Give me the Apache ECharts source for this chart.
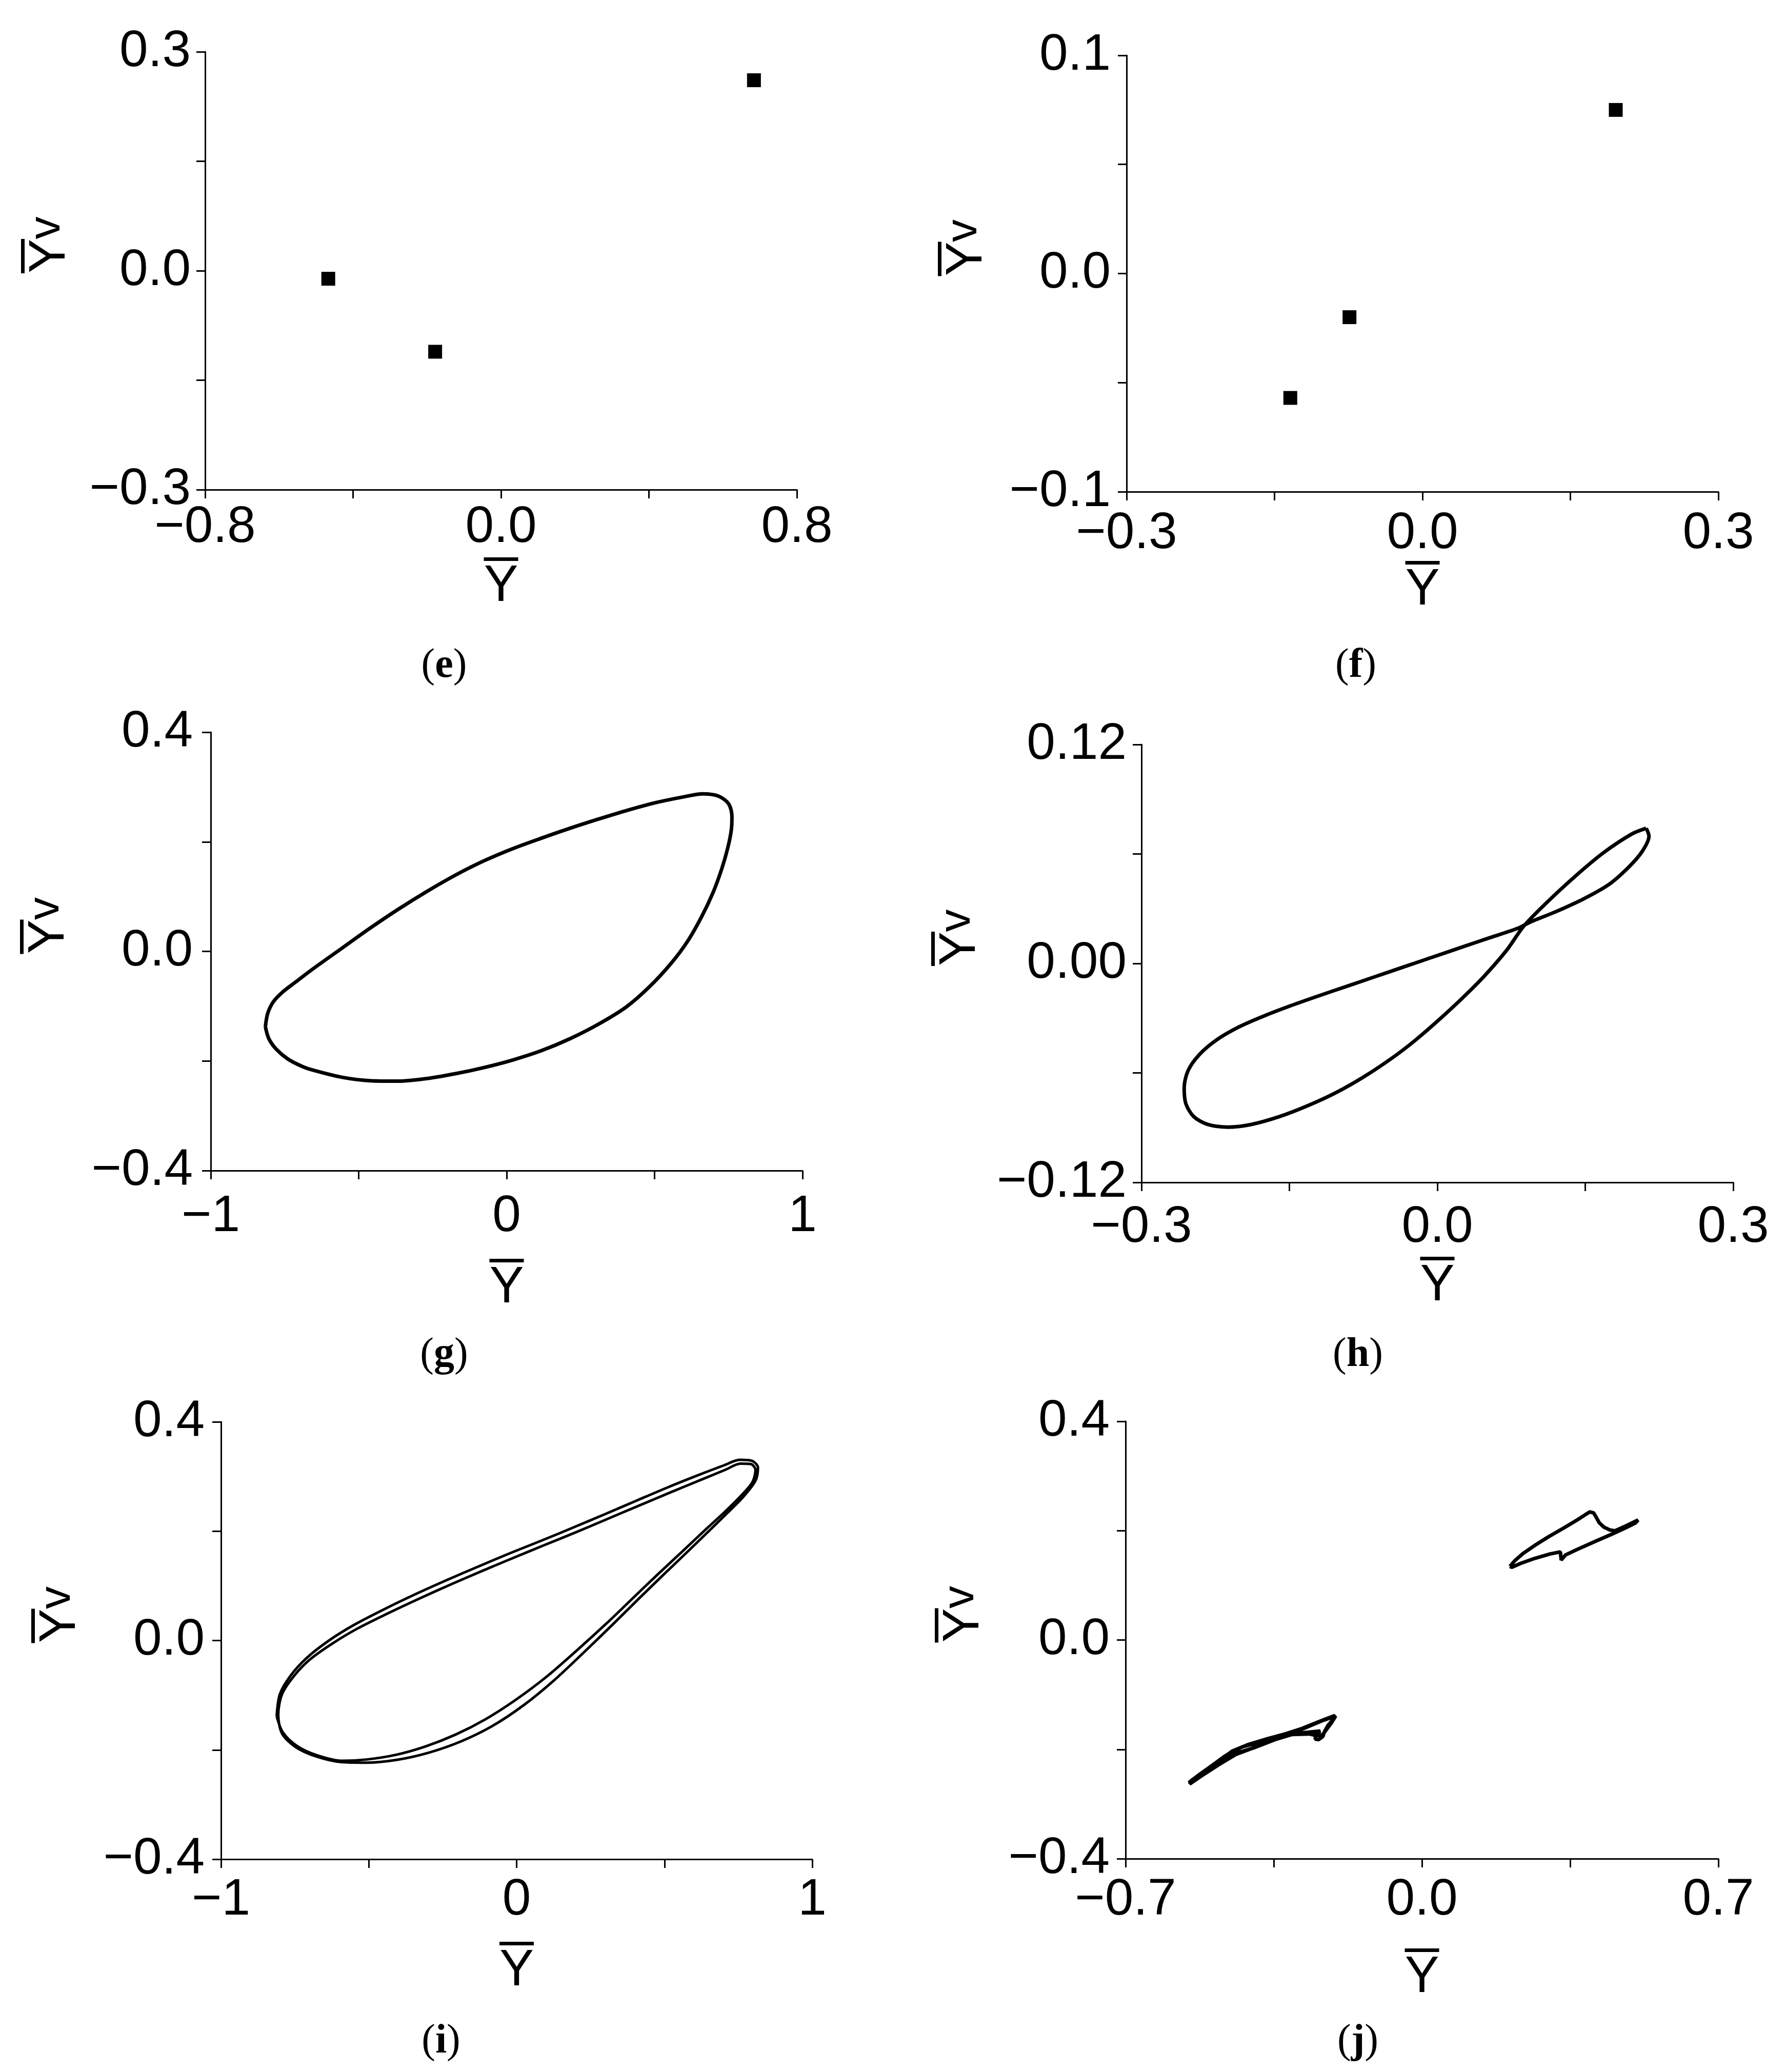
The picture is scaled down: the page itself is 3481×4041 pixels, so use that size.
<!DOCTYPE html>
<html>
<head>
<meta charset="utf-8">
<script src="https://cdn.jsdelivr.net/npm/echarts@6/dist/echarts.min.js"></script>
<style>
html, body { margin: 0; padding: 0; background: #fff; }
#chart { width: 3481px; height: 4041px; }
</style>
</head>
<body>
<div id="chart"></div>
<script>
// (e), (f): fixed points
const ePoints = [[-0.467, -0.011], [-0.178, -0.111], [0.684, 0.261]];
const fPoints = [[-0.134, -0.057], [-0.074, -0.020], [0.196, 0.075]];

// (g): single closed orbit
const gLoop = [
  [-0.8154, -0.1376], [-0.8077, -0.1136], [-0.7885, -0.0920], [-0.7558, -0.0736], [-0.7115, -0.0552],
  [-0.6538, -0.0316], [-0.5577, 0.0054], [-0.4615, 0.0424], [-0.3654, 0.0772], [-0.2692, 0.1095],
  [-0.1731, 0.1392], [-0.0769, 0.1652], [0.0192, 0.1872], [0.1154, 0.2062], [0.2115, 0.2242],
  [0.3077, 0.2410], [0.4038, 0.2568], [0.5, 0.2710], [0.5962, 0.2818], [0.6635, 0.2875],
  [0.7154, 0.2835], [0.75, 0.2696], [0.7615, 0.2464], [0.7596, 0.2224], [0.7481, 0.1904],
  [0.7269, 0.1504], [0.6981, 0.108], [0.6596, 0.064], [0.6115, 0.0184], [0.5538, -0.0232],
  [0.4808, -0.0656], [0.4038, -0.1016], [0.3077, -0.1336], [0.2115, -0.16], [0.1154, -0.1816],
  [0.0192, -0.1984], [-0.0769, -0.212], [-0.1731, -0.2232], [-0.2692, -0.232], [-0.3654, -0.2368],
  [-0.4615, -0.236], [-0.5577, -0.2296], [-0.6538, -0.2168], [-0.6923, -0.2096], [-0.7404, -0.1960],
  [-0.7788, -0.1784], [-0.8038, -0.1592], [-0.8154, -0.1376]
];

// (h): figure-eight orbit
const hLoop = [
  [0.2117, 0.0741], [0.2146, 0.0698], [0.2077, 0.0614], [0.1944, 0.0530], [0.1742, 0.0434],
  [0.1483, 0.0354], [0.1194, 0.0282], [0.0935, 0.0225], [0.0819, 0.0193], [0.0531, 0.0141],
  [0.0242, 0.0088], [-0.0046, 0.0035], [-0.0335, -0.0018], [-0.0623, -0.0071], [-0.0911, -0.0124],
  [-0.12, -0.0177], [-0.1488, -0.0232], [-0.1777, -0.0292], [-0.2008, -0.0347], [-0.2238, -0.0419],
  [-0.2412, -0.0499], [-0.2527, -0.0587], [-0.2567, -0.0683], [-0.255, -0.0768], [-0.2469, -0.0840],
  [-0.2325, -0.0883], [-0.2123, -0.0897], [-0.1892, -0.0883], [-0.1604, -0.0840], [-0.1315, -0.0780],
  [-0.1027, -0.0708], [-0.0738, -0.0619], [-0.045, -0.0515], [-0.0219, -0.0419], [0.0012, -0.0311],
  [0.0242, -0.0196], [0.0473, -0.0071], [0.0704, 0.0073], [0.0877, 0.0205], [0.1108, 0.0333],
  [0.1396, 0.0477], [0.1685, 0.0607], [0.1973, 0.0710], [0.2117, 0.0741]
];

// (i): two close passes of the orbit
const iLoopA = [
  [-0.8117, -0.1384], [-0.8010, -0.0982], [-0.7639, -0.0638], [-0.7108, -0.0322], [-0.6364, -0.0006],
  [-0.5515, 0.0281], [-0.4453, 0.0579], [-0.3391, 0.0855], [-0.2329, 0.1113], [-0.1267, 0.1360],
  [-0.0205, 0.1601], [0.0857, 0.1831], [0.1919, 0.2068], [0.2981, 0.2310], [0.4043, 0.2556],
  [0.5105, 0.2800], [0.6167, 0.3030], [0.7017, 0.3205], [0.7548, 0.3305], [0.7952, 0.3289],
  [0.8164, 0.3163], [0.8079, 0.2922], [0.7654, 0.2620], [0.7123, 0.2330], [0.6592, 0.2050],
  [0.5849, 0.1660], [0.4999, 0.1220], [0.4150, 0.0775], [0.3300, 0.0320], [0.2344, -0.0180],
  [0.1282, -0.0720], [0.0220, -0.1190], [-0.0842, -0.1570], [-0.1904, -0.1850], [-0.2966, -0.2050],
  [-0.4028, -0.2180], [-0.5090, -0.2234], [-0.5939, -0.2223], [-0.6789, -0.2119], [-0.7479, -0.1947],
  [-0.7936, -0.1700]
];
const iLoopB = [
  [-0.8063, -0.1356], [-0.7936, -0.0982], [-0.7532, -0.0649], [-0.7001, -0.0351], [-0.6258, -0.0064],
  [-0.5408, 0.0212], [-0.4346, 0.0499], [-0.3284, 0.0769], [-0.2222, 0.1027], [-0.1160, 0.1274],
  [-0.0098, 0.1515], [0.0964, 0.1751], [0.2026, 0.1985], [0.3088, 0.2228], [0.4150, 0.2470],
  [0.5212, 0.2712], [0.6274, 0.2948], [0.7070, 0.3125], [0.7569, 0.3235], [0.7920, 0.3228],
  [0.8079, 0.3123], [0.7973, 0.2893], [0.7548, 0.2623], [0.7017, 0.2340], [0.6433, 0.2050],
  [0.5636, 0.1645], [0.4734, 0.1190], [0.3884, 0.0750], [0.3035, 0.0310], [0.2079, -0.0160],
  [0.1017, -0.0660], [-0.0045, -0.1090], [-0.1054, -0.1440], [-0.2063, -0.1720], [-0.3072, -0.1935],
  [-0.4081, -0.2090], [-0.5090, -0.2177], [-0.5886, -0.2200], [-0.6736, -0.2102], [-0.7426, -0.1930],
  [-0.7904, -0.1683], [-0.8117, -0.1384]
];

// (j): two separate attractor pieces
const jUpper = [
  [0.2079, 0.1346], [0.2180, 0.1440], [0.2381, 0.1580], [0.2664, 0.1730], [0.2987, 0.1887],
  [0.3350, 0.2049], [0.3673, 0.2199], [0.3854, 0.2290], [0.3963, 0.2343], [0.4056, 0.2324],
  [0.4117, 0.2243], [0.4189, 0.2143], [0.4298, 0.2065], [0.4439, 0.2012], [0.4560, 0.1999],
  [0.4843, 0.2096], [0.5105, 0.2196], [0.5045, 0.2143], [0.4802, 0.2049], [0.4480, 0.1934],
  [0.4076, 0.1799], [0.3673, 0.1659], [0.3390, 0.1555], [0.3289, 0.1462], [0.3269, 0.1612],
  [0.3027, 0.1574], [0.2664, 0.1493], [0.2341, 0.1405], [0.2119, 0.1330], [0.2079, 0.1346]
];
const jLowerA = [
  [-0.5507, -0.2609], [-0.5245, -0.2453], [-0.4841, -0.2234], [-0.4478, -0.2031], [-0.4115, -0.1915],
  [-0.3631, -0.1802], [-0.3227, -0.1718], [-0.2824, -0.1615], [-0.2420, -0.1490], [-0.2057, -0.1380],
  [-0.2097, -0.1452], [-0.2219, -0.1562], [-0.2299, -0.1671], [-0.2340, -0.1765], [-0.2440, -0.1821],
  [-0.2521, -0.1812], [-0.2509, -0.1718], [-0.2400, -0.1665], [-0.2703, -0.1687], [-0.3026, -0.1709],
  [-0.3429, -0.1796], [-0.3913, -0.1952], [-0.4397, -0.2093], [-0.4801, -0.2281], [-0.5204, -0.2484],
  [-0.5487, -0.2634]
];
const jLowerB = [
  [-0.5447, -0.2571], [-0.5043, -0.2343], [-0.4640, -0.2115], [-0.4236, -0.1952], [-0.3752, -0.1859],
  [-0.3268, -0.1749], [-0.2783, -0.1615], [-0.2340, -0.1471], [-0.2037, -0.1390], [-0.2138, -0.1515],
  [-0.2259, -0.1640], [-0.2348, -0.1734], [-0.2481, -0.1749], [-0.2662, -0.1718], [-0.3066, -0.1727],
  [-0.3469, -0.1821], [-0.3954, -0.1968], [-0.4438, -0.2084], [-0.4882, -0.2312], [-0.5285, -0.2509],
  [-0.5507, -0.2615]
];

// axis ticks (labelled values); minor ticks sit halfway between
const eXTicks = [-0.8, 0, 0.8], eYTicks = [-0.3, 0, 0.3];
const fXTicks = [-0.3, 0, 0.3], fYTicks = [-0.1, 0, 0.1];
const gXTicks = [-1, 0, 1],     gYTicks = [-0.4, 0, 0.4];
const hXTicks = [-0.3, 0, 0.3], hYTicks = [-0.12, 0, 0.12];
const iXTicks = [-1, 0, 1],     iYTicks = [-0.4, 0, 0.4];
const jXTicks = [-0.7, 0, 0.7], jYTicks = [-0.4, 0, 0.4];

const FONT = 'Liberation Sans';

const panels = [
  { tag: 'e', grid: [400, 101, 1154, 854],  xt: eXTicks, yt: eYTicks, xd: 1, yd: 1, xm: 24, ym: 28, xg: 132, yg: 196, lab: [866, 1299] },
  { tag: 'f', grid: [2197, 108, 1154, 851], xt: fXTicks, yt: fYTicks, xd: 1, yd: 1, xm: 32, ym: 31, xg: 135, yg: 205, lab: [2644, 1299] },
  { tag: 'g', grid: [411, 1428, 1154, 855], xt: gXTicks, yt: gYTicks, xd: 0, yd: 1, xm: 40, ym: 35, xg: 172, yg: 209, lab: [866, 2643] },
  { tag: 'h', grid: [2226, 1452, 1154, 854], xt: hXTicks, yt: hYTicks, xd: 1, yd: 2, xm: 38, ym: 29, xg: 145, yg: 247, lab: [2648, 2643] },
  { tag: 'i', grid: [431, 2773, 1153, 853], xt: iXTicks, yt: iYTicks, xd: 0, yd: 1, xm: 30, ym: 32, xg: 161, yg: 207, lab: [860, 3982] },
  { tag: 'j', grid: [2195, 2772, 1156, 853], xt: jXTicks, yt: jYTicks, xd: 1, yd: 1, xm: 31, ym: 31, xg: 175, yg: 209, lab: [2648, 3982] }
];

function fmt(v, d) {
  const s = Math.abs(v).toFixed(d);
  return (v < 0 && Number(s) !== 0 ? '\u2212' : '') + s;
}

const nameRich = {
  bar: { width: 67, height: 7, lineHeight: 7, fontSize: 7, backgroundColor: '#000', align: 'center' },
  gap: { width: 43, height: 7, lineHeight: 7, fontSize: 7, align: 'center' },
  y: { width: 67, fontSize: 100, lineHeight: 94, fontFamily: FONT, color: '#000', verticalAlign: 'top', align: 'center' },
  v: { width: 43, fontSize: 88, lineHeight: 156, fontFamily: FONT, color: '#000', verticalAlign: 'top', align: 'center' }
};

function makeAxis(p, isX, idx) {
  const t = isX ? p.xt : p.yt;
  const d = isX ? p.xd : p.yd;
  const ax = {
    type: 'value',
    gridIndex: idx,
    min: t[0],
    max: t[t.length - 1],
    interval: t[1] - t[0],
    splitLine: { show: false },
    axisLine: { show: true, onZero: false, lineStyle: { color: '#000', width: 3 } },
    axisTick: { show: true, inside: false, length: 17, lineStyle: { color: '#000', width: 3 } },
    minorTick: { show: true, splitNumber: 2, length: 17, lineStyle: { color: '#000', width: 3 } },
    axisLabel: {
      show: true, fontSize: 100, fontFamily: FONT, color: '#000',
      margin: isX ? p.xm : p.ym,
      formatter: v => fmt(v, d)
    },
    nameLocation: 'middle',
    nameGap: isX ? p.xg : p.yg,
    nameTextStyle: { rich: nameRich }
  };
  if (isX) {
    ax.name = '{bar| }\n{y|Y}';
  } else {
    ax.name = '{bar| }{gap| }\n{y|Y}{v|v}';
    ax.nameRotate = 90;
    ax.nameTextStyle = { rich: nameRich, padding: [0, 0, 0, 100] };
  }
  return ax;
}

const grids = [], xAxes = [], yAxes = [], graphics = [];
panels.forEach((p, k) => {
  grids.push({ left: p.grid[0], top: p.grid[1], width: p.grid[2], height: p.grid[3], containLabel: false, outerBoundsMode: 'none' });
  xAxes.push(makeAxis(p, true, k));
  yAxes.push(makeAxis(p, false, k));
  graphics.push({
    type: 'text', x: p.lab[0], y: p.lab[1],
    style: {
      text: '{p|(}{b|' + p.tag + '}{p|)}',
      align: 'center', verticalAlign: 'middle',
      rich: {
        p: { fontFamily: 'Liberation Serif', fontSize: 80, fill: '#000', color: '#000' },
        b: { fontFamily: 'Liberation Serif', fontSize: 80, fontWeight: 'bold', fill: '#000', color: '#000' }
      }
    }
  });
});

const lineBase = { type: 'line', showSymbol: false, symbol: 'none', animation: false, silent: true };
const dotStyle = { color: '#000', opacity: 1 };
const series = [
  { type: 'scatter', xAxisIndex: 0, yAxisIndex: 0, symbol: 'rect', symbolSize: 27, itemStyle: dotStyle, data: ePoints },
  { type: 'scatter', xAxisIndex: 1, yAxisIndex: 1, symbol: 'rect', symbolSize: 27, itemStyle: dotStyle, data: fPoints },
  Object.assign({}, lineBase, { xAxisIndex: 2, yAxisIndex: 2, smooth: 0.3, lineStyle: { color: '#000', width: 7 }, data: gLoop }),
  Object.assign({}, lineBase, { xAxisIndex: 3, yAxisIndex: 3, smooth: 0.3, lineStyle: { color: '#000', width: 7 }, data: hLoop }),
  Object.assign({}, lineBase, { xAxisIndex: 4, yAxisIndex: 4, smooth: 0.3, lineStyle: { color: '#000', width: 5 }, data: iLoopA.concat(iLoopB) }),
  Object.assign({}, lineBase, { xAxisIndex: 5, yAxisIndex: 5, lineStyle: { color: '#000', width: 7 }, data: jUpper }),
  Object.assign({}, lineBase, { xAxisIndex: 5, yAxisIndex: 5, lineStyle: { color: '#000', width: 7 }, data: jLowerA.concat(jLowerB) })
];

const chart = echarts.init(document.getElementById('chart'), null, { renderer: 'canvas' });
chart.setOption({
  animation: false,
  backgroundColor: '#fff',
  grid: grids,
  xAxis: xAxes,
  yAxis: yAxes,
  graphic: graphics,
  series: series
});
</script>
</body>
</html>
